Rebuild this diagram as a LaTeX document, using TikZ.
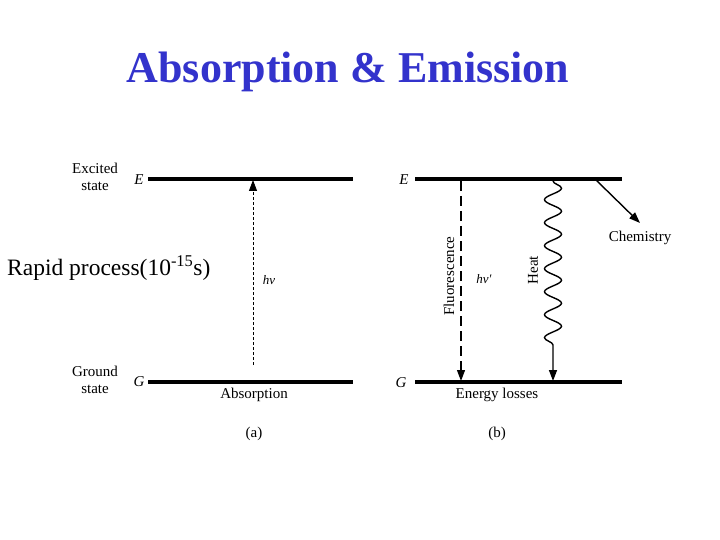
\documentclass[tikz,border=0pt]{standalone}
\usepackage{fontspec}
\setmainfont{Liberation Serif}
\usetikzlibrary{arrows.meta,decorations.pathmorphing}
\definecolor{titlec}{HTML}{3333CC}

\begin{document}
\begin{tikzpicture}[x=1pt, y=-1pt,
  level/.style={line width=3.2pt},
  lbl/.style={font=\fontsize{15}{17}\selectfont, align=center, inner sep=1pt},
  sym/.style={font=\fontsize{15}{16}\selectfont\itshape, inner sep=1pt},
  arr/.style={-{Triangle[length=11pt,width=8pt]}, line width=1.2pt},
  heat/.style={-{Triangle[length=11pt,width=8pt]}, line width=1.4pt, decorate,
    decoration={snake, amplitude=8.5pt, segment length=23pt, post length=32pt}}
]
  \useasboundingbox (0,0) rectangle (720,540);

  \node[font=\fontsize{44}{48}\selectfont\bfseries, text=titlec] (title) at (348,72) {Absorption \& Emission};

  % (a) absorption
  \coordinate (aEl) at (148,179);  \coordinate (aEr) at (353,179);
  \coordinate (aGl) at (148,382);  \coordinate (aGr) at (353,382);
  \draw[level] (aEl) -- (aEr);
  \draw[level] (aGl) -- (aGr);
  \node[lbl] (exc) at (95,177) {Excited\\state};
  \node[lbl] (gnd) at (95,380) {Ground\\state};
  \node[sym] (aE) at (139,180) {E};
  \node[sym] (aG) at (139,382) {G};
  \coordinate (absS) at (253,365);
  \coordinate (absT) at (253,180);
  \draw[arr, line width=0.8pt, densely dashed] (absS) -- (absT);
  \node[sym, font=\fontsize{13}{14}\selectfont\itshape] (hv) at (269,280) {hν};
  \node[lbl] (absl) at (254,395) {Absorption};
  \node[lbl] (capa) at (254,434) {(a)};

  \node[font=\fontsize{23.5}{26}\selectfont, anchor=west, inner sep=0pt] (rapid) at (7,268) {Rapid process(10\textsuperscript{-15}s)};

  % (b) emission
  \coordinate (bEl) at (415,179);  \coordinate (bEr) at (622,179);
  \coordinate (bGl) at (415,382);  \coordinate (bGr) at (622,382);
  \draw[level] (bEl) -- (bEr);
  \draw[level] (bGl) -- (bGr);
  \node[sym] (bE) at (404,180) {E};
  \node[sym] (bG) at (401,383) {G};
  \coordinate (flS) at (461,181);
  \coordinate (flT) at (461,381);
  \draw[arr, dash pattern=on 10pt off 5pt] (flS) -- (flT);
  \node[lbl, rotate=90] (fluor) at (449,276) {Fluorescence};
  \node[sym, font=\fontsize{13}{14}\selectfont\itshape] (hvp) at (484,279) {hν′};
  \coordinate (htS) at (553,181);
  \coordinate (htT) at (553,381);
  \draw[heat] (htS) -- (htT);
  \node[lbl, rotate=90] (heatl) at (533,270) {Heat};
  \coordinate (chS) at (596,180);
  \coordinate (chT) at (640,223);
  \draw[arr, line width=1.4pt] (chS) -- (chT);
  \node[lbl] (chem) at (640,238) {Chemistry};
  \node[lbl] (loss) at (497,395) {Energy losses};
  \node[lbl] (capb) at (497,434) {(b)};
\end{tikzpicture}
\end{document}
